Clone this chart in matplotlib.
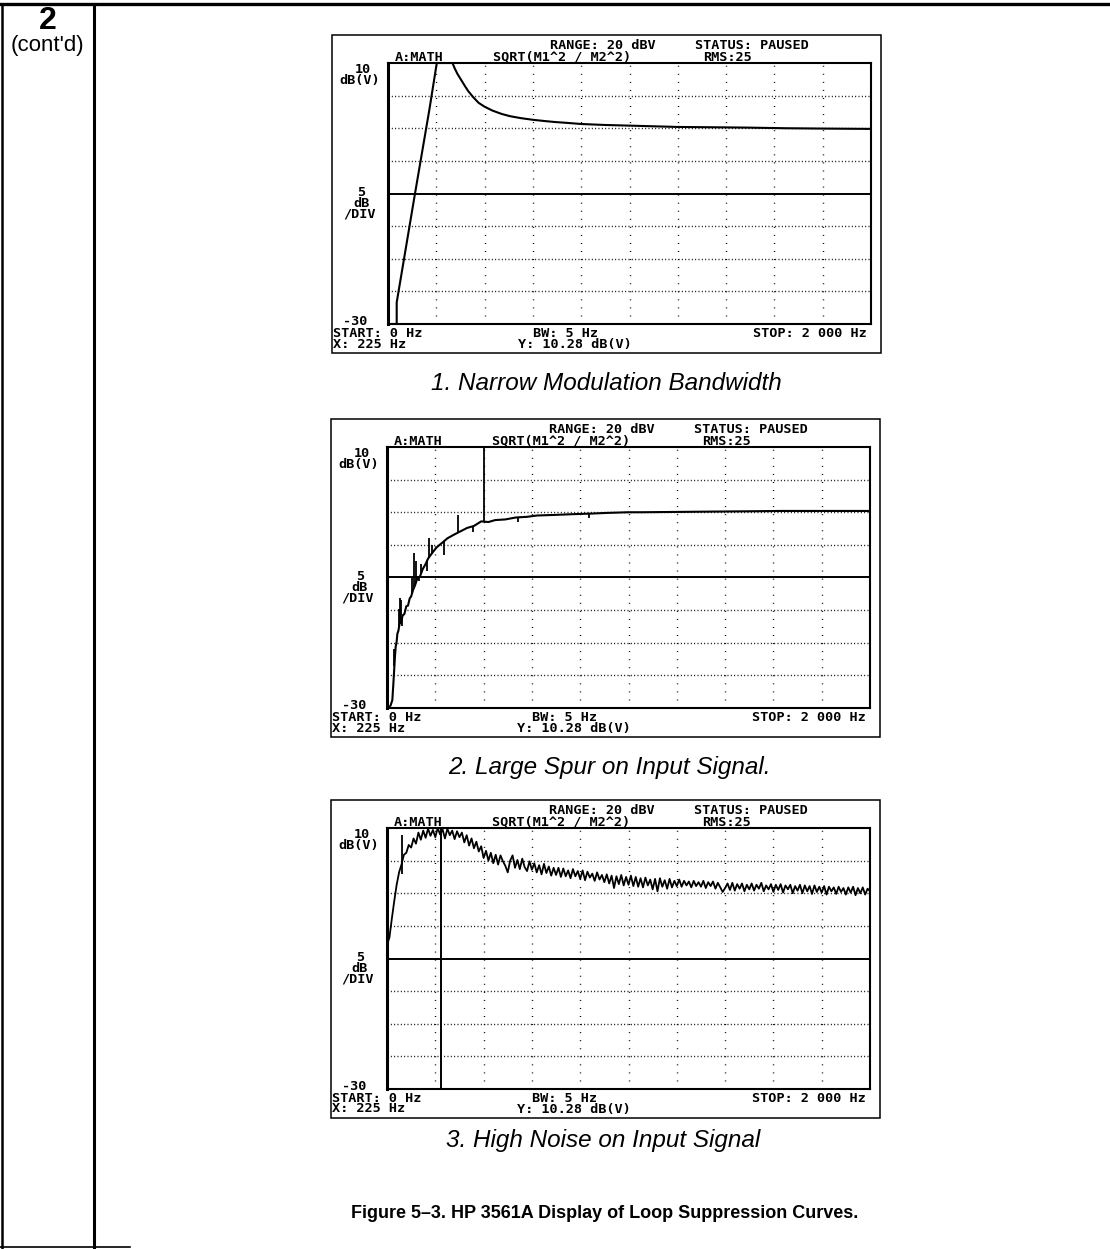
import matplotlib
matplotlib.use("Agg")
import matplotlib.pyplot as plt
from matplotlib.patches import Rectangle

W, H = 1110, 1249

# analyzer screen scales
HZ_GRID = [0, 200, 400, 600, 800, 1000, 1200, 1400, 1600, 1800, 2000]
DB_GRID = [-30, -25, -20, -15, -10, -5, 0, 5, 10]
REF_DB = -10
MARKER_HZ = 225

HEADER_TOP = ["RANGE: 20 dBV", "STATUS: PAUSED"]
HEADER_MID = ["A:MATH", "SQRT(M1^2 / M2^2)", "RMS:25"]
FOOTER = ["START: 0 Hz", "X: 225 Hz", "BW: 5 Hz", "Y: 10.28 dB(V)", "STOP: 2 000 Hz"]
CAPTIONS = ["1. Narrow Modulation Bandwidth",
            "2. Large Spur on Input Signal.",
            "3. High Noise on Input Signal"]
FIG_TITLE = "Figure 5\u20133. HP 3561A Display of Loop Suppression Curves."

# 1. narrow modulation bandwidth
NARROW_HZ = [0, 36, 36, 110, 172, 202, 267, 276, 288, 303, 318, 332, 352, 375,
             400, 433, 470, 505, 550, 599, 650, 693, 750, 800, 900, 1001, 1100,
             1199, 1350, 1487, 1650, 1800, 2000]
NARROW_DB = [-30, -30, -26.7, -10.4, 3.0, 10.0, 10.0, 9.2, 8.3, 7.4, 6.5, 5.7,
             4.8, 3.9, 3.3, 2.7, 2.2, 1.85, 1.55, 1.3, 1.1, 0.95, 0.8, 0.65, 0.5,
             0.4, 0.3, 0.2, 0.15, 0.1, 0.0, -0.05, -0.1]

# 2. large spur on input signal
SPUR_HZ = [0, 7, 15, 22, 26, 29, 33, 36, 40, 43, 47, 52, 58, 65, 72, 80, 87, 94,
           100, 108, 116, 125, 137, 148, 159, 170, 188, 205, 231, 250, 274, 300,
           332, 360, 390, 420, 448, 490, 534, 580, 621, 700, 765, 850, 910, 1000,
           1054, 1200, 1343, 1500, 1632, 1800, 2000]
SPUR_DB = [-30, -30, -29.6, -28.8, -26.5, -24.6, -22.1, -20.6, -19.8, -18.6,
           -18.2, -17.1, -16.9, -15.8, -15.6, -14.4, -14.3, -13.2, -12.9, -11.9,
           -11.2, -10.2, -9.8, -8.7, -8.0, -7.1, -6.2, -5.4, -4.6, -4.0, -3.5,
           -3.0, -2.4, -2.1, -1.4, -1.5, -1.2, -1.1, -0.8, -0.7, -0.5, -0.4, -0.3,
           -0.2, -0.1, 0.0, 0.0, 0.05, 0.1, 0.15, 0.2, 0.2, 0.2]
SPIKE_HZ = [31, 50, 55, 60, 64, 104, 113, 120, 133, 140, 165, 173, 185, 235, 296,
            358, 400, 541, 838]
SPIKE_FROM = [-23.5, -17.6, -17.0, -16.6, -16.0, -12.4, -11.4, -10.8, -9.9, -9.4,
              -7.4, -7.0, -6.3, -4.4, -3.0, -2.2, -1.4, -0.9, -0.2]
SPIKE_TO = [-21.0, -14.8, -13.2, -13.5, -17.4, -10.1, -6.3, -7.5, -10.6, -7.9,
            -9.0, -4.0, -5.0, -6.6, -0.4, -3.1, 10.0, -1.5, -0.9]

# 3. high noise on input signal (10 Hz steps)
NOISE_HZ = list(range(0, 2001, 10))
NOISE_DB = [
    -7.9, -6.8, -3.9, -1.2, 1.3, 3.2, 4.4, 5.9, 6.2, 7.4,
    7.0, 8.4, 7.6, 9.3, 8.2, 9.6, 8.5, 9.9, 8.8, 9.7,
    8.6, 10.0, 9.0, 9.8, 8.4, 9.9, 8.9, 9.6, 8.3, 9.5,
    8.6, 9.3, 7.8, 8.9, 7.3, 8.4, 6.9, 7.9, 6.4, 7.2,
    5.4, 6.5, 5.0, 6.2, 4.6, 5.9, 4.4, 5.8, 4.9, 4.2,
    3.2, 5.0, 5.8, 3.9, 5.1, 3.7, 5.3, 4.0, 3.4, 4.9,
    3.6, 4.6, 3.2, 4.3, 2.9, 4.5, 3.1, 4.1, 2.7, 3.9,
    2.8, 3.9, 2.5, 3.8, 2.6, 3.5, 2.3, 3.7, 2.6, 3.4,
    2.2, 3.5, 2.0, 3.3, 2.4, 3.0, 1.9, 3.2, 2.1, 2.8,
    1.7, 2.9, 1.5, 2.7, 0.8, 2.6, 1.4, 2.8, 1.2, 2.5,
    1.3, 2.7, 1.1, 2.5, 1.0, 2.3, 0.9, 2.4, 1.2, 2.1,
    0.6, 2.2, 0.3, 2.3, 1.0, 2.0, 0.7, 2.2, 0.9, 1.9,
    1.1, 2.1, 1.0, 1.9, 1.2, 1.8, 0.9, 1.9, 1.1, 1.7,
    1.0, 1.9, 0.8, 1.7, 1.1, 1.8, 0.7, 1.6, 0.9, 0.2,
    0.8, 1.5, 0.5, 1.6, 0.4, 1.4, 0.7, 1.5, 0.3, 1.3,
    0.6, 1.5, 0.4, 1.3, 0.7, 1.6, 0.3, 1.2, 0.6, 1.4,
    0.2, 1.3, 0.5, 1.4, 0.1, 1.2, 0.6, 1.3, 0.0, 1.1,
    0.4, 1.3, 0.0, 1.2, 0.3, 1.1, -0.1, 1.2, 0.2, 1.0,
    0.1, 1.1, -0.2, 1.0, 0.3, 0.9, -0.1, 1.0, 0.2, 0.8,
    -0.2, 0.9, 0.1, 1.0, -0.3, 0.8, 0.0, 0.9, -0.2, 0.7,
    0.3,
]
NOISE_SPIKE_HZ = [61]
NOISE_SPIKE_FROM = [3.0]
NOISE_SPIKE_TO = [9.0]

MONO = dict(family="DejaVu Sans Mono", weight="bold", fontsize=9.7, color="black")

fig = plt.figure(figsize=(W / 100, H / 100), dpi=100)
bg = fig.add_axes([0, 0, 1, 1], zorder=0)
bg.set_xlim(0, W)
bg.set_ylim(H, 0)
bg.axis("off")

# page frame
bg.plot([0, W], [4, 4], color="black", lw=2.4)
bg.plot([2, 2], [4, H], color="black", lw=1.8)
bg.plot([94, 94], [4, H], color="black", lw=2.2)
bg.plot([0, 130], [H - 2, H - 2], color="black", lw=1.2)
bg.text(48, 29, "2", ha="center", va="baseline", fontsize=23, weight="bold",
        family="Liberation Sans")
bg.text(47, 51, "(cont'd)", ha="center", va="baseline", fontsize=16,
        family="Liberation Sans")


def draw_panel(rect, hz, db, spikes=None, marker=None, lw=1.5):
    L, T, R, B = rect
    ax = fig.add_axes([L / W, 1 - B / H, (R - L) / W, (B - T) / H], zorder=2)
    ax.set_xlim(HZ_GRID[0], HZ_GRID[-1])
    ax.set_ylim(DB_GRID[0], DB_GRID[-1])
    ax.patch.set_alpha(0)
    for y in DB_GRID[1:-1]:
        if y != REF_DB:
            ax.axhline(y, color="black", lw=1.0, dashes=(0.7, 1.7))
    for x in HZ_GRID[1:-1]:
        ax.axvline(x, color="black", lw=1.0, dashes=(0.7, 5.1))
    ax.axhline(REF_DB, color="black", lw=1.4)
    ax.plot(hz, db, color="black", lw=lw)
    if spikes is not None:
        ax.vlines(spikes[0], spikes[1], spikes[2], color="black", lw=1.3)
    if marker is not None:
        ax.axvline(marker, color="black", lw=1.4)
    ax.set_xticks([])
    ax.set_yticks([])
    for s in ax.spines.values():
        s.set_linewidth(1.5)
    ax.spines["left"].set_linewidth(2.2)

    # screen frame and annotations
    bg.add_patch(Rectangle((L - 56, T - 28), (R - L) + 66, (B - T) + 57,
                           fill=False, lw=1.1, ec="black"))
    bg.text(L + 162, T - 18, HEADER_TOP[0], ha="left", va="center", **MONO)
    bg.text(L + 307, T - 18, HEADER_TOP[1], ha="left", va="center", **MONO)
    bg.text(L + 7, T - 6, HEADER_MID[0], ha="left", va="center", **MONO)
    bg.text(L + 105, T - 6, HEADER_MID[1], ha="left", va="center", **MONO)
    bg.text(L + 315, T - 6, HEADER_MID[2], ha="left", va="center", **MONO)
    bg.text(L - 25, T + 6, "10", ha="center", va="center", **MONO)
    bg.text(L - 28, T + 17, "dB(V)", ha="center", va="center", **MONO)
    bg.text(L - 27, T + 129, "5", ha="center", va="center", **MONO)
    bg.text(L - 27, T + 140, "dB", ha="center", va="center", **MONO)
    bg.text(L - 29, T + 151, "/DIV", ha="center", va="center", **MONO)
    bg.text(L - 33, B - 3, "-30", ha="center", va="center", **MONO)
    bg.text(L - 55, B + 9, FOOTER[0], ha="left", va="center", **MONO)
    bg.text(L - 55, B + 20, FOOTER[1], ha="left", va="center", **MONO)
    bg.text(L + 145, B + 9, FOOTER[2], ha="left", va="center", **MONO)
    bg.text(L + 130, B + 20, FOOTER[3], ha="left", va="center", **MONO)
    bg.text(R - 4, B + 9, FOOTER[4], ha="right", va="center", **MONO)
    return ax


draw_panel((388, 63, 871, 324), NARROW_HZ, NARROW_DB)
draw_panel((387, 447, 870, 708), SPUR_HZ, SPUR_DB,
           spikes=(SPIKE_HZ, SPIKE_FROM, SPIKE_TO))
draw_panel((387, 828, 870, 1089), NOISE_HZ, NOISE_DB,
           spikes=(NOISE_SPIKE_HZ, NOISE_SPIKE_FROM, NOISE_SPIKE_TO),
           marker=MARKER_HZ, lw=1.3)

CAP = dict(ha="center", va="center", fontsize=17.5, style="italic",
           family="Liberation Sans")
bg.text(606, 383, CAPTIONS[0], **CAP)
bg.text(609, 767, CAPTIONS[1], **CAP)
bg.text(603, 1140, CAPTIONS[2], **CAP)
bg.text(605, 1213, FIG_TITLE, ha="center", va="center", fontsize=13,
        weight="bold", family="Liberation Sans")

fig.savefig("out.png", dpi=100)
